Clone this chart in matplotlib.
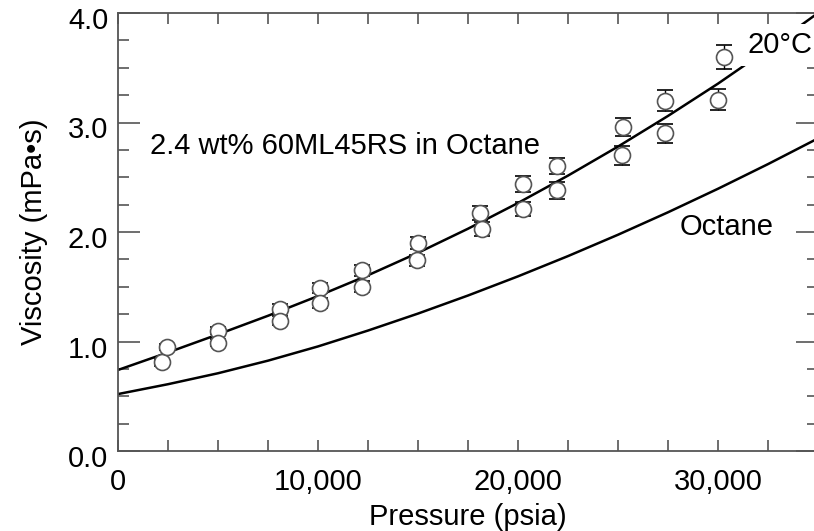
import matplotlib.pyplot as plt
import matplotlib.transforms as mtransforms
import numpy as np

plt.rcParams['font.family'] = ['Liberation Sans', 'DejaVu Sans']

# measured points (psia, mPa*s) with error bars
pressure = [2200, 2450, 5000, 5000, 8100, 8100, 10100, 10100, 12200, 12200,
            15000, 14950, 18100, 18200, 20250, 20250, 21950, 21950,
            25250, 25200, 27350, 27350, 30300, 30000]
viscosity = [0.81, 0.95, 1.10, 0.99, 1.30, 1.19, 1.49, 1.35, 1.65, 1.50,
             1.90, 1.74, 2.17, 2.03, 2.44, 2.21, 2.60, 2.38,
             2.96, 2.70, 3.20, 2.90, 3.60, 3.21]
visc_err = [0.03, 0.03, 0.035, 0.035, 0.04, 0.04, 0.045, 0.045, 0.05, 0.05,
            0.058, 0.053, 0.064, 0.064, 0.073, 0.067, 0.073, 0.075,
            0.085, 0.084, 0.096, 0.088, 0.11, 0.094]

# fitted curves
curve_p = [0, 2500, 5000, 7500, 10000, 12500, 15000, 17500, 20000,
           22500, 25000, 27500, 30000, 32500, 35000]
fit_solution = [0.74, 0.90, 1.065, 1.235, 1.415, 1.605, 1.81, 2.03, 2.265,
                2.515, 2.78, 3.06, 3.355, 3.67, 4.00]
fit_octane = [0.52, 0.61, 0.71, 0.825, 0.955, 1.10, 1.255, 1.42, 1.595,
              1.78, 1.975, 2.18, 2.395, 2.62, 2.855]

xticks = [0, 10000, 20000, 30000]
xticklabels = ['0', '10,000', '20,000', '30,000']
yticks = [0, 1, 2, 3, 4]
yticklabels = ['0.0', '1.0', '2.0', '3.0', '4.0']

fs = 21
gray = '#555555'


def main():
	fig = plt.figure(figsize=(8.14, 5.31), dpi=100)
	ax = fig.add_axes([118/814, 80/531, 700/814, 438/531])

	ax.plot(curve_p, fit_solution, color='black', lw=1.8, zorder=2,
			solid_joinstyle='round')
	ax.plot(curve_p, fit_octane, color='black', lw=1.8, zorder=2,
			solid_joinstyle='round')
	ax.errorbar(pressure, viscosity, yerr=visc_err, fmt='o', mfc='white', mec=gray,
				ms=11.5, mew=1.2, ecolor='black', elinewidth=1, capsize=6, capthick=1.6,
				zorder=3)

	ax.text(1600, 2.71, '2.4 wt% 60ML45RS in Octane', fontsize=fs, va='baseline')
	ax.text(28100, 1.97, 'Octane', fontsize=fs, va='baseline')
	ax.text(31500, 3.635, '20\u00b0C', fontsize=fs, va='baseline', zorder=5,
			bbox=dict(facecolor='white', edgecolor='none', pad=5))

	ax.set_xlim(0, 35000)
	ax.set_ylim(0, 4)
	ax.set_xticks(xticks)
	ax.set_xticklabels(xticklabels)
	ax.set_xticks(np.arange(0, 35001, 2500), minor=True)
	ax.set_yticks(yticks)
	ax.set_yticklabels(yticklabels)
	ax.set_yticks(np.arange(0, 4.01, 0.25), minor=True)

	ax.tick_params(which='both', direction='in', top=True, right=True,
				   color=gray, width=1.2, labelsize=fs)
	ax.tick_params(axis='x', which='both', length=8, pad=12)
	ax.tick_params(axis='y', which='major', length=16, pad=7)
	ax.tick_params(axis='y', which='minor', length=8)
	for s in ax.spines.values():
		s.set_color(gray)
		s.set_linewidth(1.3)

	shift = mtransforms.ScaledTranslation(0, -0.05, fig.dpi_scale_trans)
	for lab in ax.get_yticklabels():
		lab.set_transform(lab.get_transform() + shift)

	ax.set_xlabel('Pressure (psia)', fontsize=fs, labelpad=5)
	ax.set_ylabel('Viscosity (mPa\u2022s)', fontsize=fs, labelpad=14)

	plt.savefig('out.png', dpi=100)
	plt.close()


if __name__ == '__main__':
	main()
